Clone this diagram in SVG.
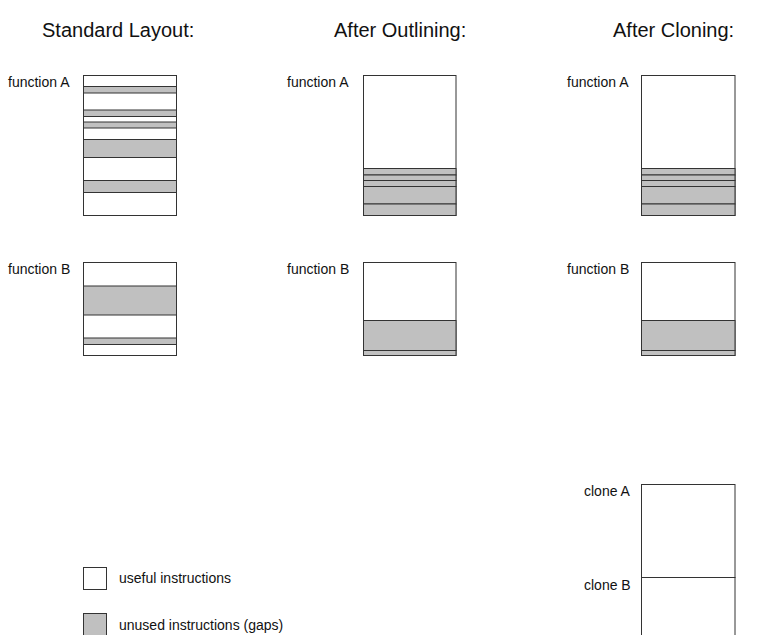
<svg xmlns="http://www.w3.org/2000/svg" width="766" height="635" viewBox="0 0 766 635">
<style>
.title{font-family:"Liberation Sans",Arial,sans-serif;font-size:20px;fill:#111}
.lbl{font-family:"Liberation Sans",Arial,sans-serif;font-size:14px;fill:#111}
.box{fill:#fff;stroke:#333;stroke-width:1}
.gap{fill:#c0c0c0;stroke:#333;stroke-width:1}
</style>
<rect width="766" height="635" fill="#fff"/>
<g id="titles">
<text class="title" x="42" y="37">Standard Layout:</text>
<text class="title" x="334" y="37">After Outlining:</text>
<text class="title" x="613" y="37">After Cloning:</text>
</g>
<g id="std-function-A">
<text class="lbl" x="8" y="87">function A</text>
<rect class="box" x="83.5" y="75.5" width="93" height="140"/>
<rect class="gap" x="83.5" y="86.5" width="93" height="6.5"/>
<rect class="gap" x="83.5" y="110" width="93" height="6.5"/>
<rect class="gap" x="83.5" y="122" width="93" height="6"/>
<rect class="gap" x="83.5" y="139.5" width="93" height="18"/>
<rect class="gap" x="83.5" y="180.5" width="93" height="12"/>
</g>
<g id="std-function-B">
<text class="lbl" x="8" y="274">function B</text>
<rect class="box" x="83.5" y="262.5" width="93" height="93"/>
<rect class="gap" x="83.5" y="286" width="93" height="29"/>
<rect class="gap" x="83.5" y="338" width="93" height="6.5"/>
</g>
<g id="out-function-A">
<text class="lbl" x="287" y="87">function A</text>
<rect class="box" x="363.5" y="75.5" width="92.5" height="140"/>
<rect class="gap" x="363.5" y="168.5" width="92.5" height="6.5"/>
<rect class="gap" x="363.5" y="175" width="92.5" height="5.5"/>
<rect class="gap" x="363.5" y="180.5" width="92.5" height="6"/>
<rect class="gap" x="363.5" y="186.5" width="92.5" height="17.5"/>
<rect class="gap" x="363.5" y="204" width="92.5" height="11.5"/>
</g>
<g id="out-function-B">
<text class="lbl" x="287" y="274">function B</text>
<rect class="box" x="363.5" y="262.5" width="92.5" height="93"/>
<rect class="gap" x="363.5" y="320.5" width="92.5" height="30"/>
<rect class="gap" x="363.5" y="350.5" width="92.5" height="5"/>
</g>
<g id="clo-function-A">
<text class="lbl" x="567" y="87">function A</text>
<rect class="box" x="641.5" y="75.5" width="93.5" height="140"/>
<rect class="gap" x="641.5" y="168.5" width="93.5" height="6.5"/>
<rect class="gap" x="641.5" y="175" width="93.5" height="5.5"/>
<rect class="gap" x="641.5" y="180.5" width="93.5" height="6"/>
<rect class="gap" x="641.5" y="186.5" width="93.5" height="17.5"/>
<rect class="gap" x="641.5" y="204" width="93.5" height="11.5"/>
</g>
<g id="clo-function-B">
<text class="lbl" x="567" y="274">function B</text>
<rect class="box" x="641.5" y="262.5" width="93.5" height="93"/>
<rect class="gap" x="641.5" y="320.5" width="93.5" height="30"/>
<rect class="gap" x="641.5" y="350.5" width="93.5" height="5"/>
</g>
<g id="clone-A">
<text class="lbl" x="584" y="496">clone A</text>
<rect class="box" x="641.5" y="484.5" width="93.5" height="93"/>
</g>
<g id="clone-B">
<text class="lbl" x="584" y="590">clone B</text>
<rect class="box" x="641.5" y="577.5" width="93.5" height="93"/>
</g>
<g id="legend">
<rect class="box" x="83.5" y="567.5" width="23" height="22"/>
<text class="lbl" x="119" y="583">useful instructions</text>
<rect class="gap" x="83.5" y="613.5" width="23" height="22"/>
<text class="lbl" x="119" y="630">unused instructions (gaps)</text>
</g>
<g id="connectors"/>
</svg>
